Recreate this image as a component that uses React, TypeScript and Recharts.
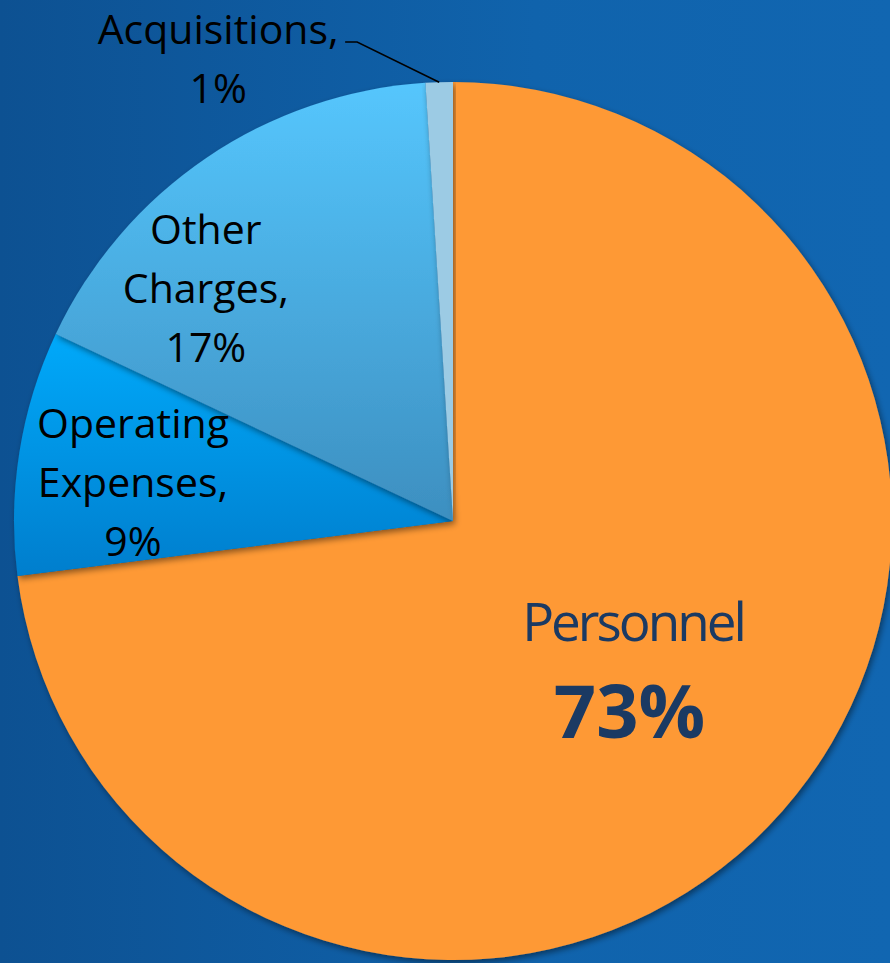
import { PieChart, Pie, Cell } from "recharts";

// budget breakdown, clockwise from 12 o'clock
const categories = ["Personnel", "Operating Expenses", "Other Charges", "Acquisitions"];
const shares = [73, 9, 17, 1];

const data = categories.map((name, i) => ({ name, value: shares[i] }));

const W = 890;
const H = 963;
const CX = 453;
const CY = 521;
const R = 439;

const FONT = "'Open Sans', 'Noto Sans', sans-serif";
const SMALL = 41;
const LINE = 59;

// where each label sits, in radius units from the centre
const layout: Record<string, { dx: number; dy: number; lines: string[] }> = {
  Acquisitions: { dx: -0.535, dy: -1.123, lines: ["Acquisitions,", "1%"] },
  "Other Charges": { dx: -0.563, dy: -0.667, lines: ["Other", "Charges,", "17%"] },
  "Operating Expenses": { dx: -0.729, dy: -0.226, lines: ["Operating", "Expenses,", "9%"] },
};

const fills: Record<string, string> = {
  Personnel: "#fe9935",
  "Operating Expenses": "url(#gOper)",
  "Other Charges": "url(#gOther)",
  Acquisitions: "#9ccbe4",
};

const RAD = Math.PI / 180;

function renderLabel(props: any) {
  const { cx, cy, midAngle, outerRadius, name } = props;
  if (name === "Personnel") {
    return (
      <g key={name}>
        <text
          x={cx + 0.41 * outerRadius}
          y={cy + 0.226 * outerRadius}
          textAnchor="middle"
          dominantBaseline="central"
          fill="#1b3a63"
          fontFamily={FONT}
          fontSize={53}
          letterSpacing={-3}
        >
          Personnel
        </text>
        <text
          x={cx + 0.402 * outerRadius}
          y={cy + 0.43 * outerRadius}
          textAnchor="middle"
          dominantBaseline="central"
          fill="#1b3a63"
          fontFamily={FONT}
          fontWeight={700}
          fontSize={74}
        >
          73%
        </text>
      </g>
    );
  }
  const l = layout[name];
  if (!l) return null;
  const x = cx + l.dx * outerRadius;
  const y0 = cy + l.dy * outerRadius;
  let leader = null;
  if (name === "Acquisitions") {
    const ex = cx + outerRadius * Math.cos(-midAngle * RAD);
    const ey = cy + outerRadius * Math.sin(-midAngle * RAD);
    const sx = x + 127;
    const sy = y0 + 14;
    leader = (
      <polyline
        points={`${sx},${sy} ${sx + 12},${sy} ${ex},${ey}`}
        fill="none"
        stroke="#000"
        strokeWidth={1.5}
      />
    );
  }
  return (
    <g key={name}>
      {leader}
      {l.lines.map((t, i) => (
        <text
          key={t}
          x={x}
          y={y0 + i * LINE}
          textAnchor="middle"
          dominantBaseline="central"
          fill="#000"
          fontFamily={FONT}
          fontSize={SMALL}
        >
          {t}
        </text>
      ))}
    </g>
  );
}

export default function App() {
  return (
    <div
      style={{
        position: "fixed",
        left: 0,
        top: 0,
        width: W,
        height: H,
        overflow: "hidden",
        background: "linear-gradient(90deg, #0d5192 0%, #1063ac 60%, #1166b1 100%)",
      }}
    >
      <PieChart width={W} height={H} margin={{ top: 0, right: 0, bottom: 0, left: 0 }}>
        <defs>
          <linearGradient id="gOper" x1="0" y1="0" x2="0" y2="1">
            <stop offset="0%" stopColor="#00a9fa" />
            <stop offset="100%" stopColor="#007ecd" />
          </linearGradient>
          <linearGradient id="gOther" x1="0" y1="0" x2="0" y2="1">
            <stop offset="0%" stopColor="#55c6fd" />
            <stop offset="100%" stopColor="#3d8fc0" />
          </linearGradient>
          <filter id="shadow" x="-10%" y="-10%" width="120%" height="120%">
            <feDropShadow dx="2" dy="3" stdDeviation="3" floodColor="#000" floodOpacity="0.45" />
          </filter>
        </defs>
        <Pie
          data={data}
          dataKey="value"
          nameKey="name"
          cx={CX}
          cy={CY}
          outerRadius={R}
          startAngle={90}
          endAngle={-270}
          stroke="none"
          label={renderLabel}
          labelLine={false}
          isAnimationActive={false}
          style={{ filter: "url(#shadow)" }}
        >
          {data.map((d) => (
            <Cell key={d.name} fill={fills[d.name]} />
          ))}
        </Pie>
      </PieChart>
    </div>
  );
}
